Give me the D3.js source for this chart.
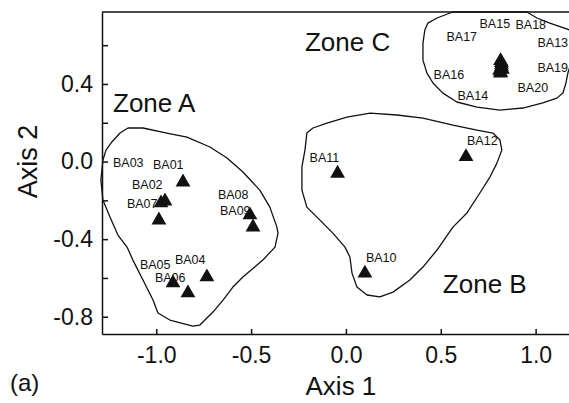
<!DOCTYPE html>
<html>
<head>
<meta charset="utf-8">
<script src="https://cdnjs.cloudflare.com/ajax/libs/d3/7.8.5/d3.min.js"></script>
<style>
    body { margin: 0; background: #fff; }
    text { font-family: "Liberation Sans", Arial, sans-serif; fill: #111; }
</style>
</head>
<body>
<div id="chart"></div>
<script>

// site scores on the first two axes
let sites = ["BA01", "BA02", "BA03", "BA04", "BA05", "BA06", "BA07", "BA08", "BA09", "BA10",
             "BA11", "BA12", "BA13", "BA14", "BA15", "BA16", "BA17", "BA18", "BA19", "BA20"];
let axis1 = [-0.859, -0.954, -0.975, -0.733, -0.912, -0.833, -0.986, -0.506, -0.490, 0.100,
             -0.044, 0.633, 0.820, 0.815, 0.815, 0.810, 0.820, 0.820, 0.825, 0.815];
let axis2 = [-0.106, -0.204, -0.214, -0.595, -0.626, -0.678, -0.302, -0.276, -0.338, -0.576,
             -0.061, 0.025, 0.500, 0.455, 0.520, 0.470, 0.510, 0.490, 0.475, 0.460];

// hand drawn zone outlines (axis units)
let zoneA = [[-1.281, 0.008], [-1.265, 0.059], [-1.234, 0.101], [-1.191, 0.147], [-1.149, 0.173],
             [-1.070, 0.173], [-0.944, 0.147], [-0.838, 0.126], [-0.717, 0.075], [-0.627, 0.018],
             [-0.543, -0.054], [-0.454, -0.147], [-0.401, -0.235], [-0.364, -0.338], [-0.358, -0.369],
             [-0.374, -0.441], [-0.438, -0.508], [-0.543, -0.595], [-0.596, -0.647], [-0.648, -0.714],
             [-0.701, -0.776], [-0.770, -0.843], [-0.807, -0.848], [-0.928, -0.817], [-0.991, -0.781],
             [-1.017, -0.714], [-1.070, -0.611], [-1.123, -0.508], [-1.154, -0.441], [-1.202, -0.379],
             [-1.244, -0.286], [-1.281, -0.198], [-1.292, -0.095]];
let zoneB = [[-0.206, 0.147], [-0.174, 0.173], [-0.100, 0.198], [0.005, 0.229], [0.127, 0.250],
             [0.269, 0.240], [0.406, 0.224], [0.564, 0.188], [0.691, 0.162], [0.775, 0.147],
             [0.812, 0.111], [0.822, 0.059], [0.796, -0.008], [0.759, -0.080], [0.706, -0.162],
             [0.638, -0.265], [0.564, -0.338], [0.480, -0.456], [0.406, -0.544], [0.337, -0.611],
             [0.248, -0.673], [0.179, -0.698], [0.111, -0.688], [0.058, -0.647], [0.032, -0.575],
             [0.021, -0.492], [-0.005, -0.441], [-0.069, -0.369], [-0.137, -0.302], [-0.206, -0.235],
             [-0.232, -0.147], [-0.232, -0.028], [-0.216, 0.059]];
let zoneC = [[0.564, 0.771], [0.480, 0.740], [0.432, 0.714], [0.416, 0.678], [0.406, 0.611],
             [0.406, 0.523], [0.427, 0.456], [0.459, 0.405], [0.511, 0.353], [0.585, 0.307],
             [0.691, 0.281], [0.812, 0.265], [0.933, 0.276], [1.038, 0.302], [1.112, 0.327],
             [1.144, 0.353], [1.160, 0.405], [1.170, 0.456], [1.191, 0.523], [1.207, 0.601],
             [1.181, 0.678], [1.075, 0.714], [1.007, 0.740], [0.954, 0.771]];

let zoneNames = ["Zone A", "Zone B", "Zone C"];
let zoneNameX = [-1.228, 0.511, -0.216];
let zoneNameY = [0.253, -0.678, 0.570];

let xTicks = [-1.0, -0.5, 0.0, 0.5, 1.0];
let yTicks = [-0.8, -0.6, -0.4, -0.2, 0.0, 0.2, 0.4, 0.6];
let yLabelled = [-0.8, -0.4, 0.0, 0.4];

// where each site label sits relative to its marker (px)
let labelDx = [-30, -33, -48, -32, -33, -33, -32, -32, -33, 1, -28, 1, 36, -43, -21, -66, -55, 14, 35, 17];
let labelDy = [-13, -12, -36, -13, -14, -11, -12, -16, -12, -11, -11, -12, -18, 27, -33, 9, -22, -38, 3, 20];


let W = 569, H = 403;
let margin = { top: 12, right: 0, bottom: 69, left: 102 };
let width = W - margin.left - margin.right,
    height = H - margin.top - margin.bottom;

let svg = d3.select("#chart").append("svg")
    .attr("width", W)
    .attr("height", H)
    .style("background", "#fff");

let g = svg.append("g")
    .attr("transform", "translate(" + margin.left + "," + margin.top + ")");

let x = d3.scaleLinear().domain([-1.286, 1.176]).range([0, width]);
let y = d3.scaleLinear().domain([-0.889, 0.771]).range([height, 0]);

let fmt = d => d3.format(".1f")(d).replace("\u2212", "-");

// zone outlines
let line = d3.line()
    .x(d => x(d[0]))
    .y(d => y(d[1]))
    .curve(d3.curveLinearClosed);

[zoneA, zoneB, zoneC].forEach(function(z) {
    g.append("path")
        .datum(z)
        .attr("d", line)
        .attr("fill", "none")
        .attr("stroke", "#111")
        .attr("stroke-width", 1.3)
        .attr("stroke-linejoin", "round");
});

// axes
let xAxis = d3.axisBottom(x)
    .tickValues(xTicks)
    .tickFormat(fmt)
    .tickSizeInner(-5)
    .tickSizeOuter(0)
    .tickPadding(13);

let yAxis = d3.axisLeft(y)
    .tickValues(yTicks)
    .tickFormat(d => yLabelled.some(v => Math.abs(v - d) < 1e-9) ? fmt(d) : "")
    .tickSizeInner(-6)
    .tickSizeOuter(0)
    .tickPadding(9);

let gx = g.append("g")
    .attr("transform", "translate(0," + height + ")")
    .call(xAxis);

let gy = g.append("g")
    .call(yAxis);

[gx, gy].forEach(function(a) {
    a.selectAll("path, line").attr("stroke", "#111").attr("stroke-width", 1.5);
    a.selectAll("text")
        .style("font-family", "Liberation Sans, Arial, sans-serif")
        .style("font-size", "23px")
        .attr("fill", "#111");
});

// top frame line
g.append("line")
    .attr("x1", 0).attr("x2", width)
    .attr("y1", 0).attr("y2", 0)
    .attr("stroke", "#111")
    .attr("stroke-width", 1.5);

// site markers
let tri = d3.symbol().type(d3.symbolTriangle).size(95);

g.selectAll(".site")
    .data(sites)
    .enter()
    .append("path")
    .attr("class", "site")
    .attr("d", tri)
    .attr("transform", (d, i) => "translate(" + x(axis1[i]) + "," + y(axis2[i]) + ")")
    .attr("fill", "#111");

g.selectAll(".site-label")
    .data(sites)
    .enter()
    .append("text")
    .attr("class", "site-label")
    .attr("x", (d, i) => x(axis1[i]) + labelDx[i])
    .attr("y", (d, i) => y(axis2[i]) + labelDy[i])
    .style("font-size", "12.5px")
    .text(d => d);

// zone names
g.selectAll(".zone-name")
    .data(zoneNames)
    .enter()
    .append("text")
    .attr("class", "zone-name")
    .attr("x", (d, i) => x(zoneNameX[i]))
    .attr("y", (d, i) => y(zoneNameY[i]))
    .style("font-size", "26px")
    .text(d => d);

// axis titles
svg.append("text")
    .attr("x", margin.left + x(0) - 5)
    .attr("y", 395)
    .attr("text-anchor", "middle")
    .style("font-size", "26px")
    .text("Axis 1");

svg.append("text")
    .attr("transform", "translate(37," + (margin.top + y(0)) + ") rotate(-90)")
    .attr("text-anchor", "middle")
    .style("font-size", "27px")
    .text("Axis 2");

svg.append("text")
    .attr("x", 10)
    .attr("y", 391)
    .style("font-size", "24px")
    .text("(a)");

</script>
</body>
</html>
